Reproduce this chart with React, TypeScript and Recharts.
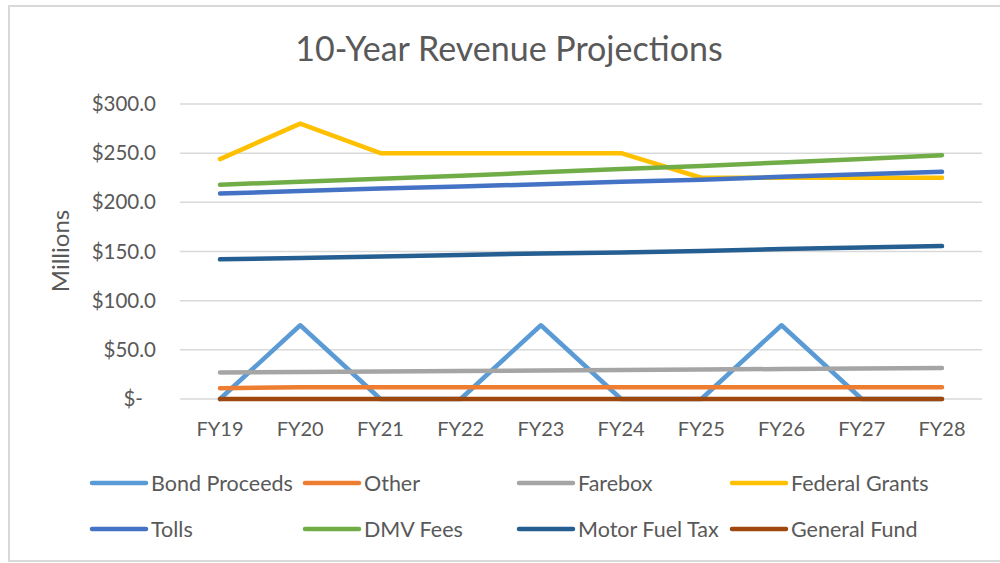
import React from 'react';
import { LineChart, Line, XAxis, YAxis, CartesianGrid } from 'recharts';

const categories = ['FY19', 'FY20', 'FY21', 'FY22', 'FY23', 'FY24', 'FY25', 'FY26', 'FY27', 'FY28'];
const bondProceeds = [0, 75, 0, 0, 75, 0, 0, 75, 0, 0];
const other = [11, 12, 12, 12, 12, 12, 12, 12, 12, 12];
const farebox = [27, 27.5, 28, 28.5, 29, 29.5, 30, 30.5, 31, 31.5];
const federalGrants = [244, 280, 250, 250, 250, 250, 225, 225, 225, 225];
const tolls = [209, 211.5, 214, 216, 218.5, 221, 223, 226, 228.5, 231];
const dmvFees = [218, 221, 224, 227, 230.5, 234, 237, 240.5, 244, 248];
const motorFuelTax = [142, 143.5, 145, 146.5, 148, 149, 150.5, 152.5, 154, 155.5];
const generalFund = [0, 0, 0, 0, 0, 0, 0, 0, 0, 0];
const yTicks = [0, 50, 100, 150, 200, 250, 300];

const series = [
  { key: 'bond', name: 'Bond Proceeds', values: bondProceeds, color: '#5B9BD5' },
  { key: 'other', name: 'Other', values: other, color: '#ED7D31' },
  { key: 'farebox', name: 'Farebox', values: farebox, color: '#A5A5A5' },
  { key: 'federal', name: 'Federal Grants', values: federalGrants, color: '#FFC000' },
  { key: 'tolls', name: 'Tolls', values: tolls, color: '#4472C4' },
  { key: 'dmv', name: 'DMV Fees', values: dmvFees, color: '#70AD47' },
  { key: 'fuel', name: 'Motor Fuel Tax', values: motorFuelTax, color: '#255E91' },
  { key: 'general', name: 'General Fund', values: generalFund, color: '#9E480E' },
];

const data = categories.map((c, i) => {
  const row: any = { cat: c };
  series.forEach((s) => {
    row[s.key] = s.values[i];
  });
  return row;
});

const FONT = 'Lato, "Open Sans", sans-serif';
const TEXT = '#595959';

const YTick = (props: any) => {
  const { x, y, payload } = props;
  const v = payload.value;
  const label = v === 0 ? '$-' : '$' + v.toFixed(1);
  return (
    <text x={v === 0 ? x - 13 : x} y={y} dy={7} textAnchor="end" fill={TEXT} fontSize={20.5} fontFamily={FONT}>
      {label}
    </text>
  );
};

const XTick = (props: any) => {
  const { x, y, payload } = props;
  return (
    <text x={x} y={y} dy={14} textAnchor="middle" fill={TEXT} fontSize={20} fontFamily={FONT}>
      {payload.value}
    </text>
  );
};

const legendCols = [92, 305, 519, 732];
const legendRows = [483, 529];

export default function App() {
  return (
    <div style={{ position: 'absolute', left: 0, top: 0, width: 1000, height: 563, background: '#fff', overflow: 'hidden' }}>
      <LineChart width={1000} height={563} data={data} margin={{ top: 104, right: 18, bottom: 134, left: 60 }}>
        <CartesianGrid horizontal vertical={false} stroke="#d9d9d9" strokeWidth={1.5} />
        <XAxis
          dataKey="cat"
          axisLine={false}
          tickLine={false}
          padding={{ left: 40, right: 40 }}
          tick={<XTick />}
          tickSize={0}
          tickMargin={23}
          interval={0}
          height={30}
        />
        <YAxis
          width={120}
          domain={[0, 300]}
          ticks={yTicks}
          axisLine={false}
          tickLine={false}
          tickSize={0}
          tickMargin={24}
          tick={<YTick />}
        />
        {series.map((s) => (
          <Line
            key={s.key}
            type="linear"
            dataKey={s.key}
            name={s.name}
            stroke={s.color}
            strokeWidth={4.5}
            strokeLinecap="round"
            strokeLinejoin="round"
            dot={false}
            activeDot={false}
            isAnimationActive={false}
          />
        ))}
      </LineChart>
      <svg width={1000} height={563} style={{ position: 'absolute', left: 0, top: 0, pointerEvents: 'none' }}>
        <rect x={9} y={6} width={1010} height={555} fill="none" stroke="#d9d9d9" strokeWidth={2} />
        <text x={509} y={61} textAnchor="middle" fill={TEXT} fontSize={34} fontFamily={FONT}>
          10-Year Revenue Projections
        </text>
        <text
          x={0}
          y={0}
          transform="translate(69,251) rotate(-90)"
          textAnchor="middle"
          fill={TEXT}
          fontSize={24}
          fontFamily={FONT}
        >
          Millions
        </text>
        {series.map((s, i) => {
          const x = legendCols[i % 4];
          const y = legendRows[Math.floor(i / 4)];
          return (
            <g key={s.key}>
              <line x1={x} y1={y} x2={x + 54} y2={y} stroke={s.color} strokeWidth={4.5} strokeLinecap="round" />
              <text x={x + 59} y={y} dy={7.5} fill={TEXT} fontSize={21.5} fontFamily={FONT}>
                {s.name}
              </text>
            </g>
          );
        })}
      </svg>
    </div>
  );
}
